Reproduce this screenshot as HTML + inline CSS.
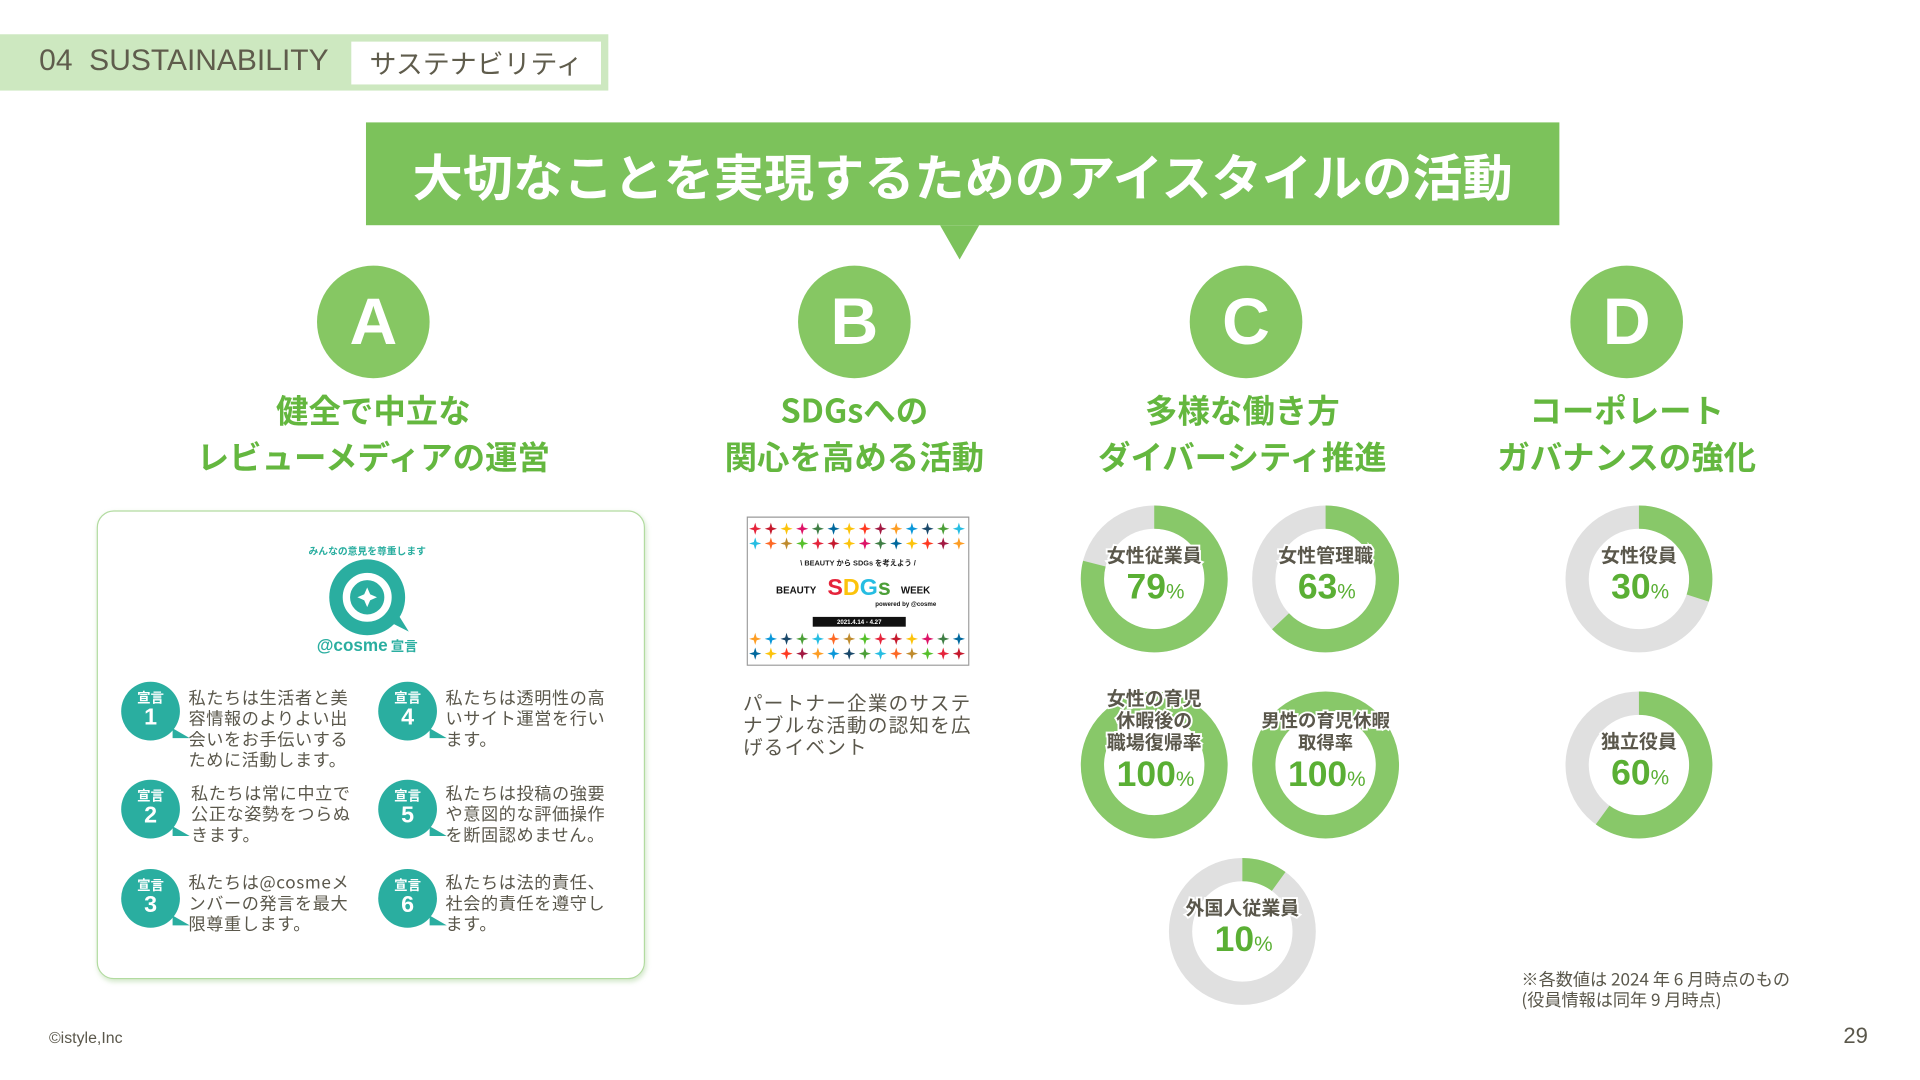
<!DOCTYPE html>
<html lang="ja"><head><meta charset="utf-8">
<style>
html,body{margin:0;padding:0;width:1920px;height:1079px;overflow:hidden;background:#fff;}
#stage{position:absolute;left:0;top:0;width:1569px;height:882px;transform:scale(1.224);transform-origin:0 0;font-family:"Liberation Sans","Noto Sans CJK JP",sans-serif;color:#5a574b;}
.abs{position:absolute;}
.jp{font-family:"Noto Sans CJK JP","Liberation Sans",sans-serif;}
.letter{position:absolute;width:92px;height:92px;border-radius:50%;background:#86c763;color:#fff;font-weight:bold;font-size:54px;line-height:92px;text-align:center;font-family:"Liberation Sans",sans-serif;}
.head{position:absolute;width:340px;text-align:center;color:#64b73f;font-weight:bold;font-size:26.5px;line-height:38px;font-family:"Noto Sans CJK JP",sans-serif;}
.bub{position:absolute;width:48px;height:48px;border-radius:50%;background:#2aaea0;color:#fff;text-align:center;font-weight:bold;font-family:"Noto Sans CJK JP",sans-serif;}
.bub:after{content:"";position:absolute;right:-8px;bottom:2px;border-left:14px solid #2aaea0;border-top:8px solid transparent;}
.bub .k{position:absolute;left:0;right:0;top:7px;font-size:11px;line-height:12px;}
.bub .n{position:absolute;left:0;right:0;top:19px;font-size:19px;line-height:22px;font-family:"Liberation Sans",sans-serif;}
.decl{position:absolute;font-size:14px;line-height:17px;font-family:"Noto Sans CJK JP",sans-serif;color:#5a574b;width:136px;letter-spacing:0.5px;}
</style></head><body>
<div id="stage">
  <div class="abs" style="left:0;top:28px;width:497px;height:46px;background:#cde8c0;"></div>
  <div class="abs" style="left:32px;top:35px;font-size:24.5px;line-height:30px;color:#5f5c4c;">04&nbsp;&nbsp;SUSTAINABILITY</div>
  <div class="abs jp" style="left:287px;top:34px;width:204px;height:35px;background:#fff;font-size:22px;line-height:35px;text-align:center;color:#5f5c4c;">サステナビリティ</div>

  <div class="abs jp" style="left:299px;top:100px;width:975px;height:84px;background:#7cc25b;color:#fff;font-weight:bold;font-size:41px;line-height:84px;text-align:center;">大切なことを実現するためのアイスタイルの活動</div>
  <div class="abs" style="left:768px;top:184px;width:0;height:0;border-left:16px solid transparent;border-right:16px solid transparent;border-top:28px solid #7cc25b;"></div>

  <div class="letter" style="left:259px;top:217px;">A</div>
  <div class="letter" style="left:652px;top:217px;">B</div>
  <div class="letter" style="left:972px;top:217px;">C</div>
  <div class="letter" style="left:1283px;top:217px;">D</div>

  <div class="head" style="left:135px;top:315px;">健全で中立な<br>レビューメディアの運営</div>
  <div class="head" style="left:528px;top:315px;">SDGsへの<br>関心を高める活動</div>
  <div class="head" style="left:845px;top:315px;">多様な働き方<br>ダイバーシティ推進</div>
  <div class="head" style="left:1159px;top:315px;">コーポレート<br>ガバナンスの強化</div>

  <div class="abs" style="left:79px;top:417px;width:446px;height:381px;border:1.5px solid #b2dba0;border-radius:14px;box-shadow:1px 2px 4px rgba(150,200,130,0.4);"></div>
  <svg class="abs" style="left:250px;top:438px;" width="100" height="97" viewBox="0 0 100 97">
    <text x="50" y="15" font-size="8" fill="#2aaea0" text-anchor="middle" font-family="Noto Sans CJK JP,sans-serif" font-weight="bold">みんなの意見を尊重します</text>
    <circle cx="50" cy="50" r="31" fill="#2aaea0"/>
    <path d="M68 70 L84 78 L74 62 Z" fill="#2aaea0"/>
    <circle cx="50" cy="50" r="17" fill="none" stroke="#fff" stroke-width="6"/>
    <path d="M50 42 L53.5 50 L50 58 L46.5 50 Z M42 50 L50 46.5 L58 50 L50 53.5 Z" fill="#fff"/>
    <text x="50" y="94" font-size="14" fill="#2aaea0" text-anchor="middle" font-family="Liberation Sans,sans-serif" font-weight="bold">@cosme<tspan font-size="11" font-family="Noto Sans CJK JP,sans-serif"> 宣言</tspan></text>
  </svg>

  <div class="bub" style="left:99px;top:557px;"><div class="k">宣言</div><div class="n">1</div></div>
  <div class="decl" style="left:154px;top:562px;">私たちは生活者と美容情報のよりよい出会いをお手伝いするために活動します。</div>
  <div class="bub" style="left:309px;top:557px;"><div class="k">宣言</div><div class="n">4</div></div>
  <div class="decl" style="left:364px;top:562px;">私たちは透明性の高いサイト運営を行います。</div>
  <div class="bub" style="left:99px;top:637px;"><div class="k">宣言</div><div class="n">2</div></div>
  <div class="decl" style="left:156px;top:640px;">私たちは常に中立で公正な姿勢をつらぬきます。</div>
  <div class="bub" style="left:309px;top:637px;"><div class="k">宣言</div><div class="n">5</div></div>
  <div class="decl" style="left:364px;top:640px;">私たちは投稿の強要や意図的な評価操作を断固認めません。</div>
  <div class="bub" style="left:99px;top:710px;"><div class="k">宣言</div><div class="n">3</div></div>
  <div class="decl" style="left:154px;top:713px;">私たちは@cosmeメンバーの発言を最大限尊重します。</div>
  <div class="bub" style="left:309px;top:710px;"><div class="k">宣言</div><div class="n">6</div></div>
  <div class="decl" style="left:364px;top:713px;">私たちは法的責任、社会的責任を遵守します。</div>

  <svg class="abs" id="sdgs" style="left:610px;top:422px;" width="182" height="122" viewBox="0 0 182 122">
    <rect x="0.5" y="0.5" width="181" height="121" fill="#fff" stroke="#999"/>
    <text x="91" y="40" font-size="6" text-anchor="middle" fill="#222" font-family="Liberation Sans,Noto Sans CJK JP,sans-serif" font-weight="bold">\ BEAUTY から SDGs を考えよう /</text>
    <text x="24" y="63" font-size="8" fill="#111" font-family="Liberation Sans,sans-serif" font-weight="bold">BEAUTY</text>
    <text x="66" y="64" font-size="19" font-family="Liberation Sans,sans-serif" font-weight="bold"><tspan fill="#e5243b">S</tspan><tspan fill="#fcc30b">D</tspan><tspan fill="#26bde2">G</tspan><tspan fill="#4c9f38">s</tspan></text>
    <text x="126" y="63" font-size="8" fill="#111" font-family="Liberation Sans,sans-serif" font-weight="bold">WEEK</text>
    <text x="130" y="73" font-size="5" fill="#111" text-anchor="middle" font-family="Liberation Sans,sans-serif" font-weight="bold">powered by @cosme</text>
    <rect x="54" y="82" width="76" height="8" fill="#111"/>
    <text x="92" y="88" font-size="5" fill="#fff" text-anchor="middle" font-family="Liberation Sans,sans-serif" font-weight="bold">2021.4.14 - 4.27</text>
  </svg>
  <div class="abs jp" style="left:607px;top:564px;width:190px;font-size:16px;line-height:18px;color:#5a574b;letter-spacing:1px;">パートナー企業のサステナブルな活動の認知を広げるイベント</div>

  <svg class="abs" id="donuts" style="left:0;top:0;" width="1569" height="882"></svg>

  <div class="abs jp" style="left:1243px;top:792px;font-size:14px;line-height:17px;color:#5a574b;">※各数値は 2024 年 6 月時点のもの<br>(役員情報は同年 9 月時点)</div>
  <div class="abs" style="left:40px;top:840px;font-size:13px;color:#5a574b;">©istyle,Inc</div>
  <div class="abs" style="left:1506px;top:836px;font-size:18px;color:#5a574b;">29</div>
</div>
<script>
const donutLabels = [["女性従業員"],["女性管理職"],["女性の育児","休暇後の","職場復帰率"],["男性の育児休暇","取得率"],["外国人従業員"],["女性役員"],["独立役員"]];
const donutValues = [79, 63, 100, 100, 10, 30, 60];
const donutNames = ["female-employees","female-managers","female-return-rate","male-leave-rate","foreign-employees","female-officers","independent-officers"];
const donutCenters = [[943,473],[1083,473],[943,625],[1083,625],[1015,761],[1339,473],[1339,625]];
const NS="http://www.w3.org/2000/svg";
const svg=document.getElementById('donuts');
const R=50.5, W=19;
function angle(v){return v/100*2*Math.PI - Math.PI/2;}
function arcPath(cx,cy,v){
  if(v>=100) return null;
  const a0=-Math.PI/2, a1=angle(v);
  const x0=cx+R*Math.cos(a0), y0=cy+R*Math.sin(a0), x1=cx+R*Math.cos(a1), y1=cy+R*Math.sin(a1);
  return `M${x0} ${y0} A${R} ${R} 0 ${v>50?1:0} 1 ${x1} ${y1}`;
}
const sd=document.getElementById('sdgs');
const cols=["#e5243b","#fcc30b","#4c9f38","#c5192d","#ff3a21","#26bde2","#fcc30b","#a21942","#fd6925","#dd1367","#fd9d24","#bf8b2e","#3f7e44","#0a97d9","#56c02b","#00689d","#19486a"];
[10,22,100,112].forEach((y,r)=>{for(let i=0;i<14;i++){const x=7+i*12.8;const p=document.createElementNS(NS,'path');p.setAttribute('d',`M${x} ${y-5} L${x+1.5} ${y} L${x} ${y+5} L${x-1.5} ${y} Z M${x-5} ${y} L${x} ${y-1.5} L${x+5} ${y} L${x} ${y+1.5} Z`);p.setAttribute('fill',cols[(i*3+r*5)%cols.length]);


sd.appendChild(p);}});
donutValues.forEach((v,i)=>{
  const [cx,cy]=donutCenters[i];
  const g=document.createElementNS(NS,'g');
  
  
  const bg=document.createElementNS(NS,'circle');
  bg.setAttribute('cx',cx);bg.setAttribute('cy',cy);bg.setAttribute('r',R);
  bg.setAttribute('fill','none');bg.setAttribute('stroke',v>=100?'#88c869':'#e0e0e0');bg.setAttribute('stroke-width',W);
  
  
  g.appendChild(bg);
  const d=arcPath(cx,cy,v);
  if(d){const p=document.createElementNS(NS,'path');p.setAttribute('d',d);p.setAttribute('fill','none');p.setAttribute('stroke','#88c869');p.setAttribute('stroke-width',W);
  
  
  g.appendChild(p);}
  const lines=donutLabels[i];
  const lh=18;
  const valY = lines.length>1 ? cy+17 : cy+16;
  const startY = valY-30-(lines.length-1)*lh;
  lines.forEach((t,j)=>{
    const tx=document.createElementNS(NS,'text');
    tx.setAttribute('x',cx);tx.setAttribute('y',startY+j*lh);tx.setAttribute('text-anchor','middle');
    tx.setAttribute('font-size',lines[0].length>6?15:15.5);tx.setAttribute('font-weight','bold');tx.setAttribute('fill','#5a574b');
    tx.setAttribute('font-family','Noto Sans CJK JP,sans-serif');
    tx.setAttribute('stroke','#fff');tx.setAttribute('stroke-width','3');tx.setAttribute('paint-order','stroke');
    tx.textContent=t;
    
    
    g.appendChild(tx);
  });
  const vt=document.createElementNS(NS,'text');
  vt.setAttribute('x',cx+1);vt.setAttribute('y',valY);vt.setAttribute('text-anchor','middle');
  vt.setAttribute('font-family','Liberation Sans,sans-serif');vt.setAttribute('font-weight','bold');vt.setAttribute('fill','#5aaf34');
  vt.setAttribute('font-size','29');
  vt.setAttribute('stroke','#fff');vt.setAttribute('stroke-width','3');vt.setAttribute('paint-order','stroke');
  vt.innerHTML=v+'<tspan font-size="17" font-weight="normal">%</tspan>';
  
  
  g.appendChild(vt);
  svg.appendChild(g);
});
</script>
</body></html>
